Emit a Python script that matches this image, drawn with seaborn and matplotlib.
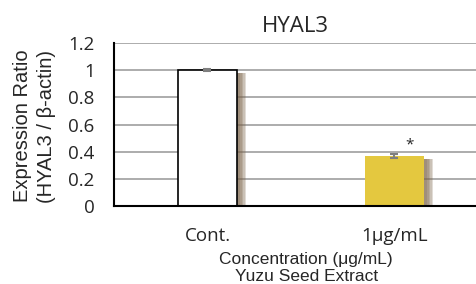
import matplotlib
matplotlib.use("Agg")
import matplotlib.pyplot as plt
import matplotlib.transforms as mtransforms
import pandas as pd
import seaborn as sns

# data
categories = ["Cont.", "1\u03bcg/mL"]
ratios = [1.0, 0.37]
errors = [0.006, 0.014]
bar_colors = ["#FFFFFF", "#E4C83F"]
sig_marks = ["", "*"]
y_ticks = [0, 0.2, 0.4, 0.6, 0.8, 1, 1.2]
y_tick_labels = ["0", "0.2", "0.4", "0.6", "0.8", "1", "1.2"]

df = pd.DataFrame({"cond": categories, "ratio": ratios})

sns.set_theme(style="white")
plt.rcParams["font.family"] = ["Liberation Sans", "DejaVu Sans"]
tick_font = ["Open Sans", "DejaVu Sans"]

fig = plt.figure(figsize=(4.76, 2.84), dpi=100)
ax = fig.add_axes([0.2395, 0.2746, 0.7605, 0.574])

# soft brown shadow fading out to the right of each bar
for off in [9, 7.5, 6, 4.5, 3]:
    n0 = len(ax.patches)
    sns.barplot(data=df, x="cond", y="ratio", color="#7A6248", width=0.316,
                saturation=1, errorbar=None, ax=ax, zorder=1)
    shift = mtransforms.ScaledTranslation(off / 100, -3 / 100, fig.dpi_scale_trans)
    for p in ax.patches[n0:]:
        p.set_transform(ax.transData + shift)
        p.set_alpha(0.22)
        p.set_linewidth(0)
n_shadow = len(ax.patches)

sns.barplot(data=df, x="cond", y="ratio", hue="cond", palette=bar_colors,
            width=0.316, saturation=1, errorbar=None, legend=False, ax=ax, zorder=2)
for i, p in enumerate(ax.patches[n_shadow:]):
    if i == 0:
        p.set_edgecolor("black")
        p.set_linewidth(1.2)
    else:
        p.set_linewidth(0)

ax.errorbar(range(len(categories)), ratios, yerr=errors, fmt="none",
            ecolor="#7F7F7F", elinewidth=1.5, capsize=3, capthick=1.5, zorder=3)
for i, m in enumerate(sig_marks):
    if m:
        ax.text(i + 0.078, 0.45, m, ha="center", va="center",
                fontsize=11, family=tick_font)

ax.set_xlim(-0.5, 1.436)
ax.set_ylim(0, 1.2)
ax.set_yticks(y_ticks)
ax.set_yticklabels(y_tick_labels)
ax.yaxis.grid(True, color="#A6A6A6", linewidth=1.3, zorder=0)
ax.set_axisbelow(True)
for s in ["top", "right"]:
    ax.spines[s].set_visible(False)
ax.spines["left"].set_color("black")
ax.spines["bottom"].set_color("black")
ax.spines["left"].set_linewidth(1.5)
ax.spines["bottom"].set_linewidth(1.5)
ax.tick_params(axis="both", length=0, labelsize=13.5)
ax.tick_params(axis="y", pad=14)
ax.tick_params(axis="x", pad=15)
for lab in ax.get_yticklabels() + ax.get_xticklabels():
    lab.set_family(tick_font)
ax.set_xlabel("")
ax.set_ylabel("")

fig.text(0.0725, 0.556, "Expression Ratio\n(HYAL3 / \u03b2-actin)", rotation=90,
         ha="center", va="center", fontsize=14.5, linespacing=1.3)
fig.text(0.62, 0.905, "HYAL3", ha="center", va="center", fontsize=16,
         family=tick_font)
fig.text(0.643, 0.055, "Concentration (\u03bcg/mL)\nYuzu Seed Extract", ha="center",
         va="center", fontsize=12.5, linespacing=1.15)

fig.savefig("out.png", dpi=100)
